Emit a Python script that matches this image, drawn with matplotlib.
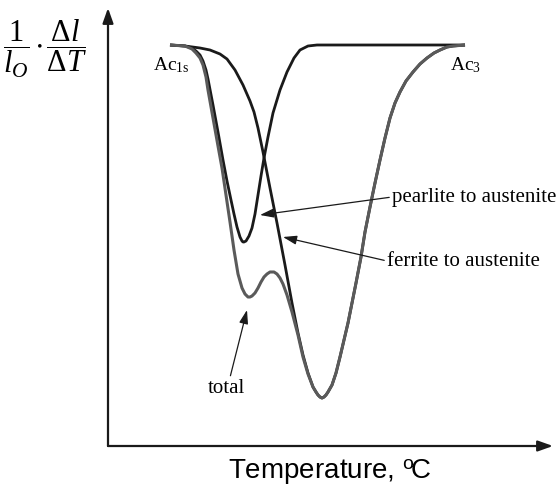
import matplotlib
matplotlib.use("Agg")
import matplotlib.pyplot as plt

plt.rcParams["mathtext.fontset"] = "custom"
plt.rcParams["mathtext.rm"] = "Liberation Serif"
plt.rcParams["mathtext.it"] = "Liberation Serif:italic"
plt.rcParams["mathtext.bf"] = "Liberation Serif:bold"
plt.rcParams["mathtext.sf"] = "Liberation Sans"

# Schematic dilatation-rate curves (arbitrary units): x = temperature, y = (1/l0) dl/dT
pearlite_x = [62, 77, 84, 88, 92, 95, 98, 100, 105, 110, 115, 119, 123, 126, 129,
              132, 134, 135, 136, 138, 141, 144, 147, 150, 153, 156, 160, 165, 172,
              179, 186, 192, 196, 200, 209, 357]
pearlite_y = [0, -1, -3, -6, -10, -16, -25, -34, -60, -87, -115, -136, -155, -169,
              -182, -192, -196, -197, -197, -196, -191, -183, -169, -150, -131, -113,
              -92, -68, -45, -27, -13, -5, -3, -1, 0, 0]

ferrite_x = [62, 77, 92, 102, 112, 119, 127, 135, 142, 146, 150, 155, 162, 169,
             177, 184, 190, 195, 200, 205, 208, 210, 212, 214, 216, 218, 220, 224,
             228, 232, 236, 240, 244, 248, 253, 257, 262, 267, 272, 277, 282, 287,
             292, 298, 305, 312, 319, 326, 332, 339, 345, 357]
ferrite_y = [0, -1, -3, -5, -9, -14, -25, -40, -56, -67, -83, -107, -143, -178,
             -220, -258, -288, -310, -328, -342, -347, -350, -352, -353, -352, -350,
             -347, -340, -328, -312, -295, -278, -258, -238, -212, -187, -162, -138,
             -115, -93, -73, -58, -47, -36, -27, -19, -13, -8, -5, -2, -1, 0]

total_x = [62, 77, 84, 88, 92, 95, 98, 100, 105, 110, 114, 118, 122, 126, 130,
           134, 137, 140, 142, 144, 147, 150, 153, 156, 159, 162, 164, 166, 169,
           172, 175, 179, 184, 190, 195, 200, 205, 208, 210, 212, 214, 216, 218,
           220, 224, 228, 232, 236, 240, 244, 248, 253, 257, 262, 267, 272, 277,
           282, 287, 292, 298, 305, 312, 319, 326, 332, 339, 345, 357]
total_y = [0, -1, -4, -8, -13, -20, -32, -45, -73, -101, -123, -150, -177, -205,
           -229, -243, -249, -252, -252, -251, -248, -243, -237, -232, -229, -227,
           -227, -227, -229, -233, -239, -250, -267, -290, -312, -329, -342, -347,
           -350, -352, -353, -352, -350, -347, -340, -328, -312, -295, -278, -258,
           -238, -212, -187, -162, -138, -115, -93, -73, -58, -47, -36, -27, -19,
           -13, -8, -5, -2, -1, 0]

BLACK = "#1a1a1a"
GRAY = "#5a5a5a"
SERIF = "Liberation Serif"

fig = plt.figure(figsize=(5.56, 4.94), dpi=100)
W, H = 556, 494
ax = fig.add_axes([108 / W, 48 / H, (553 - 108) / W, (446 - 8) / H])
ax.set_xlim(0, 445)
ax.set_ylim(-401, 37)
for s in ax.spines.values():
    s.set_visible(False)
ax.set_xticks([])
ax.set_yticks([])

# axes drawn as arrows
arrow_kw = dict(arrowstyle="-|>,head_length=0.9,head_width=0.32", color=BLACK,
                lw=1.6, shrinkA=0, shrinkB=0)
ax.annotate("", xy=(0, 1), xytext=(0, 0), xycoords="axes fraction",
            textcoords="axes fraction", arrowprops=arrow_kw)
ax.annotate("", xy=(1, 0), xytext=(0, 0), xycoords="axes fraction",
            textcoords="axes fraction", arrowprops=arrow_kw)

line_kw = dict(solid_capstyle="butt", solid_joinstyle="round")
ax.plot(pearlite_x, pearlite_y, color=BLACK, lw=2.0, zorder=2, **line_kw)
ax.plot(ferrite_x, ferrite_y, color=BLACK, lw=2.0, zorder=2, **line_kw)
ax.plot(total_x, total_y, color=GRAY, lw=2.2, zorder=3, **line_kw)

ax.text(45, -25, r"Ac$_{\mathrm{1s}}$", family=SERIF, fontsize=14, va="baseline", ha="left")
ax.text(342, -25, r"Ac$_{\mathrm{3}}$", family=SERIF, fontsize=14, va="baseline", ha="left")

note_kw = dict(arrowstyle="-|>,head_length=0.55,head_width=0.18", color=BLACK,
               lw=0.9, shrinkA=0, shrinkB=0)
ax.annotate("pearlite to austenite", xy=(152, -170), xytext=(284, -152),
            family=SERIF, fontsize=15, ha="left", va="center",
            arrowprops=dict(note_kw, relpos=(0, 0.5)))
ax.annotate("ferrite to austenite", xy=(175, -192), xytext=(279, -216),
            family=SERIF, fontsize=15, ha="left", va="center",
            arrowprops=dict(note_kw, relpos=(0, 0.5)))
ax.annotate("total", xy=(139, -265), xytext=(118, -343),
            family=SERIF, fontsize=15, ha="center", va="center",
            arrowprops=dict(note_kw, relpos=(0.6, 1.0)))

fig.text(45 / W, 1 - 49 / H,
         r"$\dfrac{\mathit{1}}{l_{O}}\,{\bullet}\,\dfrac{\Delta l}{\Delta T}$",
         fontsize=22, ha="center", va="center")
fig.text(330 / W, 1 - 472 / H, r"Temperature, $^{\mathsf{o}}\!$C", family="Liberation Sans",
         fontsize=20, ha="center", va="center")

fig.savefig("out.png", dpi=100)
